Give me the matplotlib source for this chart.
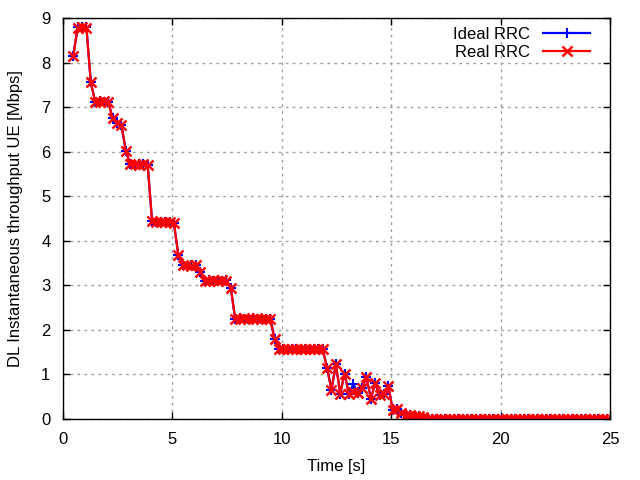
import matplotlib
matplotlib.use("Agg")
import matplotlib.pyplot as plt

plt.rcParams['font.family'] = ['Liberation Sans', 'DejaVu Sans']

# sample instants [s]
time_s = [
    0.47, 0.67, 0.87, 1.07, 1.27, 1.47, 1.67, 1.87, 2.07, 2.27,
    2.47, 2.67, 2.87, 3.07, 3.27, 3.47, 3.67, 3.87, 4.07, 4.27,
    4.47, 4.67, 4.87, 5.07, 5.27, 5.47, 5.67, 5.87, 6.07, 6.27,
    6.47, 6.67, 6.87, 7.07, 7.27, 7.47, 7.67, 7.87, 8.07, 8.27,
    8.47, 8.67, 8.87, 9.07, 9.27, 9.47, 9.67, 9.87, 10.07, 10.27,
    10.47, 10.67, 10.87, 11.07, 11.27, 11.47, 11.67, 11.87, 12.07, 12.27,
    12.47, 12.67, 12.87, 13.07, 13.27, 13.47, 13.67, 13.87, 14.07, 14.27,
    14.47, 14.67, 14.87, 15.07, 15.27, 15.47, 15.67, 15.87, 16.07, 16.27,
    16.47, 16.67, 16.87, 17.07, 17.27, 17.47, 17.67, 17.87, 18.07, 18.27,
    18.47, 18.67, 18.87, 19.07, 19.27, 19.47, 19.67, 19.87, 20.07, 20.27,
    20.47, 20.67, 20.87, 21.07, 21.27, 21.47, 21.67, 21.87, 22.07, 22.27,
    22.47, 22.67, 22.87, 23.07, 23.27, 23.47, 23.67, 23.87, 24.07, 24.27,
    24.47, 24.67, 24.87,
]

# throughput [Mbps]
real_rrc = [
    8.15, 8.78, 8.80, 8.78, 7.56, 7.12, 7.12, 7.13, 7.12, 6.75,
    6.65, 6.60, 6.02, 5.72, 5.72, 5.71, 5.72, 5.70, 4.45, 4.42,
    4.43, 4.42, 4.43, 4.40, 3.68, 3.45, 3.45, 3.44, 3.45, 3.31,
    3.10, 3.10, 3.11, 3.10, 3.11, 3.10, 2.94, 2.25, 2.25, 2.26,
    2.25, 2.25, 2.26, 2.25, 2.25, 2.25, 1.80, 1.58, 1.58, 1.57,
    1.58, 1.58, 1.57, 1.58, 1.58, 1.57, 1.58, 1.58, 1.14, 0.66,
    1.23, 0.57, 1.02, 0.55, 0.60, 0.58, 0.70, 0.94, 0.46, 0.80,
    0.54, 0.55, 0.74, 0.20, 0.22, 0.13, 0.10, 0.08, 0.07, 0.06,
    0.05, 0.01, 0.00, 0.00, 0.00, 0.00, 0.00, 0.00, 0.00, 0.00,
    0.00, 0.00, 0.00, 0.00, 0.00, 0.00, 0.00, 0.00, 0.00, 0.00,
    0.00, 0.00, 0.00, 0.00, 0.00, 0.00, 0.00, 0.00, 0.00, 0.00,
    0.00, 0.00, 0.00, 0.00, 0.00, 0.00, 0.00, 0.00, 0.00, 0.00,
    0.00, 0.00, 0.00,
]

ideal_rrc = [
    8.15, 8.80, 8.80, 8.80, 7.56, 7.12, 7.13, 7.12, 7.12, 6.75,
    6.65, 6.60, 6.02, 5.72, 5.71, 5.72, 5.72, 5.70, 4.45, 4.43,
    4.42, 4.43, 4.42, 4.40, 3.68, 3.45, 3.44, 3.45, 3.45, 3.31,
    3.10, 3.11, 3.10, 3.10, 3.10, 3.11, 2.94, 2.25, 2.26, 2.25,
    2.25, 2.26, 2.25, 2.25, 2.25, 2.25, 1.80, 1.58, 1.57, 1.58,
    1.58, 1.57, 1.58, 1.58, 1.57, 1.58, 1.58, 1.58, 1.14, 0.66,
    1.23, 0.57, 1.02, 0.55, 0.79, 0.58, 0.70, 0.94, 0.46, 0.80,
    0.54, 0.55, 0.74, 0.20, 0.22, 0.13, 0.10, 0.08, 0.07, 0.06,
    0.05, 0.02, 0.00, 0.01, 0.00, 0.00, 0.01, 0.00, 0.00, 0.01,
    0.00, 0.00, 0.01, 0.00, 0.00, 0.01, 0.00, 0.00, 0.01, 0.00,
    0.00, 0.01, 0.00, 0.00, 0.01, 0.00, 0.00, 0.01, 0.00, 0.00,
    0.01, 0.00, 0.00, 0.01, 0.00, 0.00, 0.01, 0.00, 0.00, 0.01,
    0.00, 0.00, 0.01,
]

x_ticks = [0, 5, 10, 15, 20, 25]
y_ticks = [0, 1, 2, 3, 4, 5, 6, 7, 8, 9]

fig = plt.figure(figsize=(6.4, 4.8), dpi=100)
ax = fig.add_axes([63 / 640, 61 / 480, 547 / 640, 401 / 480])

ax.plot(time_s, ideal_rrc, color="#0000ff", lw=1.6, marker="+", ms=7,
        mew=1.5, label="Ideal RRC")
ax.plot(time_s, real_rrc, color="#ff0000", lw=1.6, marker="x", ms=6.5,
        mew=1.8, label="Real RRC")

ax.set_xlim(0, 25)
ax.set_ylim(0, 9)
ax.set_xticks(x_ticks)
ax.set_yticks(y_ticks)
ax.tick_params(direction="in", top=True, right=True, length=5, width=1,
               labelsize=12, pad=9)
ax.grid(True, color="#a0a0a0", linestyle=(0, (2, 3)), linewidth=1)
ax.set_axisbelow(True)
for s in ax.spines.values():
    s.set_linewidth(1)

ax.set_xlabel("Time [s]", fontsize=12, labelpad=9)
ax.set_ylabel("DL Instantaneous throughput UE [Mbps]", fontsize=12,
              labelpad=13)

leg = ax.legend(loc="upper right", bbox_to_anchor=(0.9634, 0.978),
                frameon=False, markerfirst=False, numpoints=1,
                handlelength=2.8, fontsize=12, borderaxespad=0,
                borderpad=0, labelspacing=0.2, handletextpad=0.8)

fig.savefig("out.png", dpi=100)
